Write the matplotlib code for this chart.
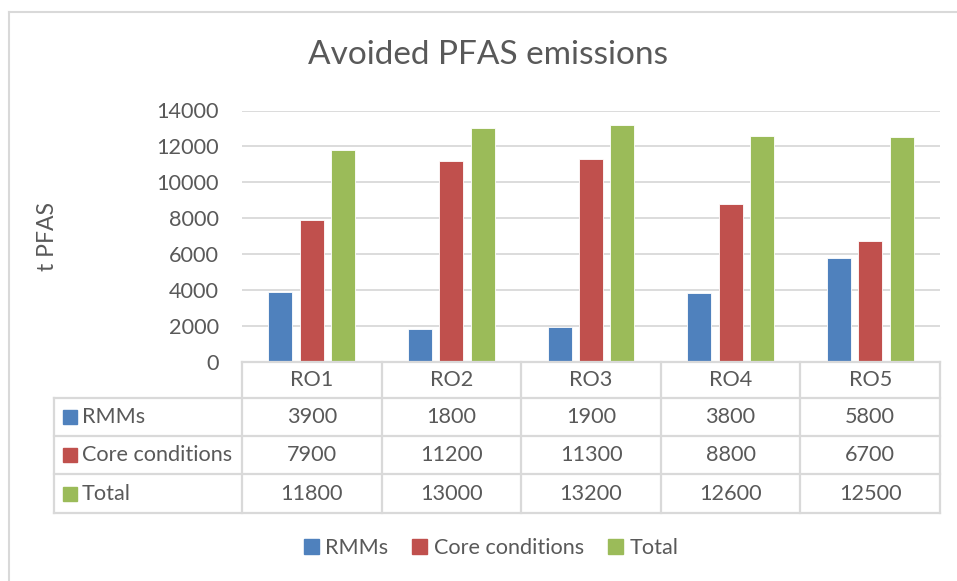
import numpy as np
import matplotlib.pyplot as plt
from matplotlib.patches import Patch
from matplotlib.lines import Line2D

categories = ['RO1', 'RO2', 'RO3', 'RO4', 'RO5']
series_names = ['RMMs', 'Core conditions', 'Total']
rmms = [3900, 1800, 1900, 3800, 5800]
core = [7900, 11200, 11300, 8800, 6700]
total = [11800, 13000, 13200, 12600, 12500]
yticks = [0, 2000, 4000, 6000, 8000, 10000, 12000, 14000]

colors = ['#4F81BD', '#C0504D', '#9BBB59']
txt = '#595959'
grid = '#D9D9D9'
fs = 15.6

plt.rcParams['font.family'] = ['Lato', 'DejaVu Sans']

W, H = 957, 581
fig = plt.figure(figsize=(W/100, H/100), dpi=100)

# pixel layout
ax_l, ax_r, ax_t, ax_b = 242, 940, 110.5, 361.5
ax = fig.add_axes([ax_l/W, 1-ax_b/H, (ax_r-ax_l)/W, (ax_b-ax_t)/H])

x = np.arange(len(categories))
bw = 0.172
step = 0.225
for i, vals in enumerate([rmms, core, total]):
    ax.bar(x + (i-1)*step, vals, width=bw, color=colors[i],
           edgecolor='white', linewidth=0.6, zorder=3)

ax.set_xlim(-0.5, len(categories)-0.5)
ax.set_ylim(0, 14000)
ax.set_yticks(yticks)
ax.set_yticklabels([str(v) for v in yticks], fontsize=fs, color=txt)
ax.tick_params(axis='y', length=0, pad=16.5)
ax.set_xticks([])
ax.grid(axis='y', color=grid, linewidth=1.3, zorder=0)
for s in ax.spines.values():
    s.set_visible(False)
ax.set_ylabel('t PFAS', fontsize=16.5, color=txt, labelpad=0)
ax.yaxis.set_label_coords((58-ax_l)/(ax_r-ax_l), 0.5)

fig.text(488/W, 1-55/H, 'Avoided PFAS emissions', fontsize=24,
         color=txt, ha='center', va='center')

# data table drawn in pixel coordinates
tab = fig.add_axes([0, 0, 1, 1])
tab.set_xlim(0, W)
tab.set_ylim(H, 0)
tab.axis('off')
col_w = (ax_r-ax_l)/len(categories)
rows_y = [362, 398, 436, 474, 513]
tab_left = 54
lw = 1.6
# horizontal lines
tab.add_line(Line2D([ax_l, ax_r], [rows_y[0], rows_y[0]], color=grid, lw=lw))
for y in rows_y[1:]:
    tab.add_line(Line2D([tab_left, ax_r], [y, y], color=grid, lw=lw))
# vertical lines
tab.add_line(Line2D([tab_left, tab_left], [rows_y[1], rows_y[-1]], color=grid, lw=lw))
for j in range(len(categories)+1):
    xe = ax_l + j*col_w
    tab.add_line(Line2D([xe, xe], [rows_y[0], rows_y[-1]], color=grid, lw=lw))
# header
for j, c in enumerate(categories):
    tab.text(ax_l + (j+0.5)*col_w, (rows_y[0]+rows_y[1])/2, c, fontsize=fs,
             color=txt, ha='center', va='center')
# rows
for i, (name, vals) in enumerate(zip(series_names, [rmms, core, total])):
    yc = (rows_y[i+1]+rows_y[i+2])/2
    tab.add_patch(plt.Rectangle((63, yc-7), 14, 14, color=colors[i]))
    tab.text(82, yc, name, fontsize=fs, color=txt, ha='left', va='center')
    for j, v in enumerate(vals):
        tab.text(ax_l + (j+0.5)*col_w, yc, str(v), fontsize=fs,
                 color=txt, ha='center', va='center')

# chart border (left and top visible)
tab.add_line(Line2D([9, 9], [12, H], color=grid, lw=1.5))
tab.add_line(Line2D([9, W], [12, 12], color=grid, lw=1.5))

handles = [Patch(color=c, label=n) for c, n in zip(colors, series_names)]
leg = fig.legend(handles=handles, loc='center', bbox_to_anchor=(491/W, 1-548/H),
                 ncol=3, frameon=False, fontsize=fs, handlelength=0.7,
                 handleheight=0.7, handletextpad=0.3, columnspacing=1.1)
for t in leg.get_texts():
    t.set_color(txt)

fig.savefig('out.png', dpi=100)
